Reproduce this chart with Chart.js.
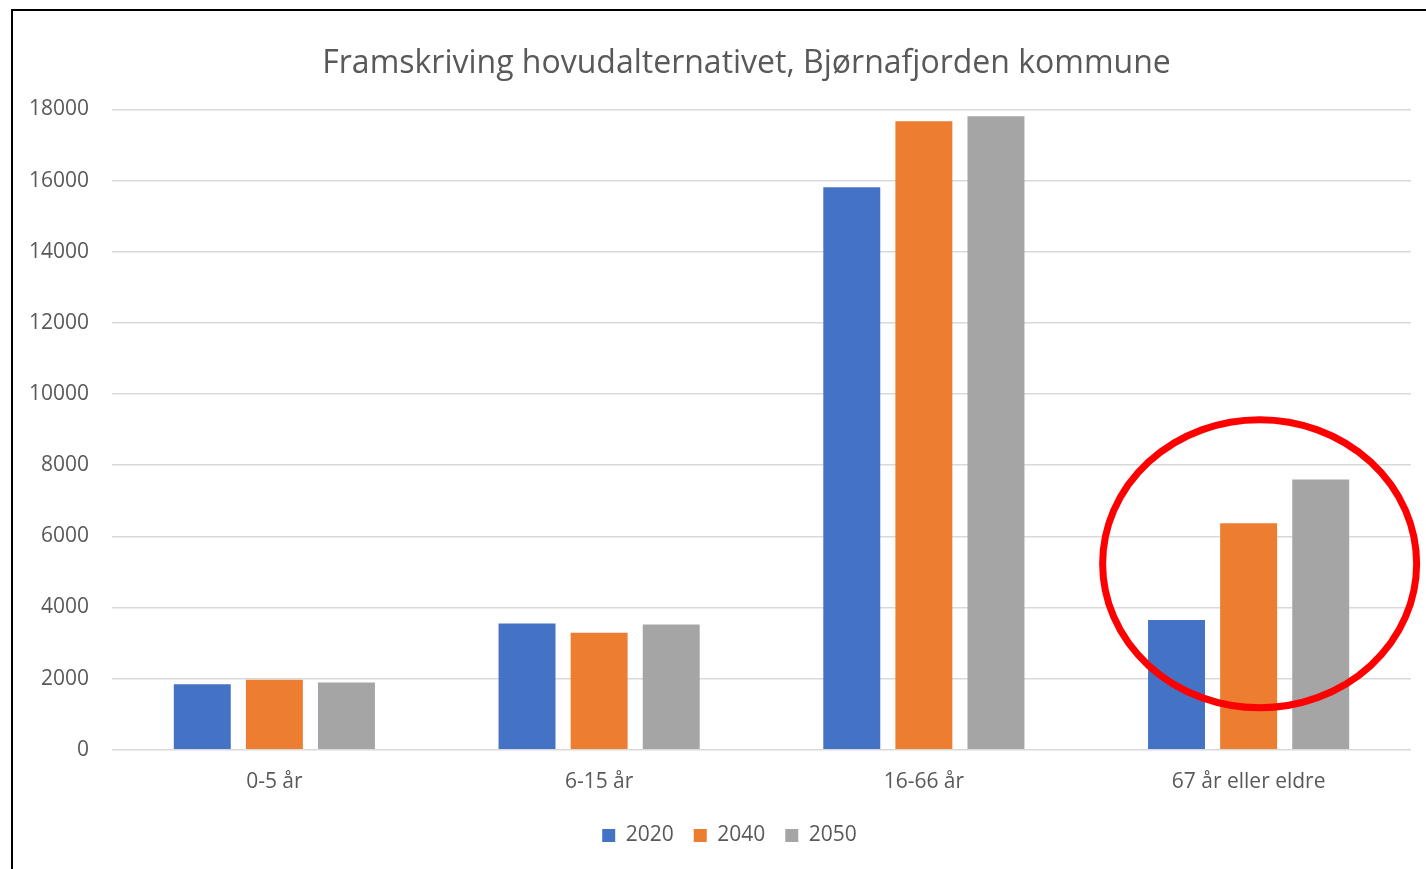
<!DOCTYPE html>
<html>
<head>
<meta charset="utf-8">
<script src="https://cdn.jsdelivr.net/npm/chart.js@4"></script>
<style>
  html, body { margin: 0; padding: 0; background: #fff; }
  .wrap { position: relative; width: 1426px; height: 869px; overflow: hidden; background: #fff; }
  .frame { position: absolute; left: 11px; top: 9px; width: 1500px; height: 1000px; border-left: 2px solid #000; border-top: 2px solid #000; }
  canvas { position: absolute; left: 0; top: 0; }
</style>
</head>
<body>
<div class="wrap">
  <div class="frame"></div>
  <canvas id="chart" width="1426" height="869"></canvas>
</div>
<script>
/* ===== Data ===== */
const categories = ['0-5 år', '6-15 år', '16-66 år', '67 år eller eldre'];
const years = ['2020', '2040', '2050'];
const values2020 = [1840, 3550, 15810, 3650];
const values2040 = [1970, 3290, 17670, 6370];
const values2050 = [1890, 3520, 17810, 7600];
const yTicks = [0, 2000, 4000, 6000, 8000, 10000, 12000, 14000, 16000, 18000];

const colors = ['#4472C4', '#ED7D31', '#A5A5A5'];
const textColor = '#595959';
const fontFamily = "'Open Sans', sans-serif";

/* ===== Nudge title / legend off the canvas centre (as in the original) ===== */
function shiftBox(box, dx, dy) {
  if (!box) return;
  box.left += dx; box.right += dx;
  box.top += dy; box.bottom += dy;
}
const boxNudge = {
  id: 'boxNudge',
  afterLayout(chart) {
    shiftBox(chart.titleBlock, 34, 0);
    shiftBox(chart.legend, 17, -2);
  }
};

/* ===== Red highlight ring around last group ===== */
const highlightRing = {
  id: 'highlightRing',
  afterDatasetsDraw(chart) {
    const { ctx, scales } = chart;
    const cx = scales.x.getPixelForValue(3) + 11;
    const cy = scales.y.getPixelForValue(5230);
    ctx.save();
    ctx.beginPath();
    ctx.ellipse(cx, cy, 157, 144, 0, 0, Math.PI * 2);
    ctx.strokeStyle = '#FF0000';
    ctx.lineWidth = 7;
    ctx.stroke();
    ctx.restore();
  }
};

new Chart(document.getElementById('chart'), {
  type: 'bar',
  data: {
    labels: categories,
    datasets: [values2020, values2040, values2050].map((data, i) => ({
      label: years[i],
      data,
      backgroundColor: colors[i],
      barPercentage: 0.79,
      categoryPercentage: 0.666
    }))
  },
  options: {
    responsive: false,
    animation: false,
    layout: { padding: { left: 14, right: 15, top: 10, bottom: 11 } },
    scales: {
      x: {
        grid: { display: false },
        border: { display: false },
        ticks: { color: textColor, font: { family: fontFamily, size: 21 }, padding: 12 }
      },
      y: {
        min: 0,
        max: 18000,
        afterBuildTicks: (axis) => { axis.ticks = yTicks.map(v => ({ value: v })); },
        afterFit: (axis) => { axis.width = 98; },
        grid: { color: '#D9D9D9', lineWidth: 1.5, drawTicks: false },
        border: { display: false },
        ticks: {
          color: textColor,
          font: { family: fontFamily, size: 21 },
          padding: 23,
          callback: (v) => String(v)
        }
      }
    },
    plugins: {
      title: {
        display: true,
        text: 'Framskriving hovudalternativet, Bjørnafjorden kommune',
        color: textColor,
        font: { family: fontFamily, size: 32, weight: 'normal' },
        padding: { top: 35, bottom: 26 }
      },
      legend: {
        position: 'bottom',
        labels: {
          color: textColor,
          font: { family: fontFamily, size: 21 },
          boxWidth: 13,
          boxHeight: 13,
          padding: 20
        }
      },
      tooltip: { enabled: false }
    }
  },
  plugins: [boxNudge, highlightRing]
});
</script>
</body>
</html>
